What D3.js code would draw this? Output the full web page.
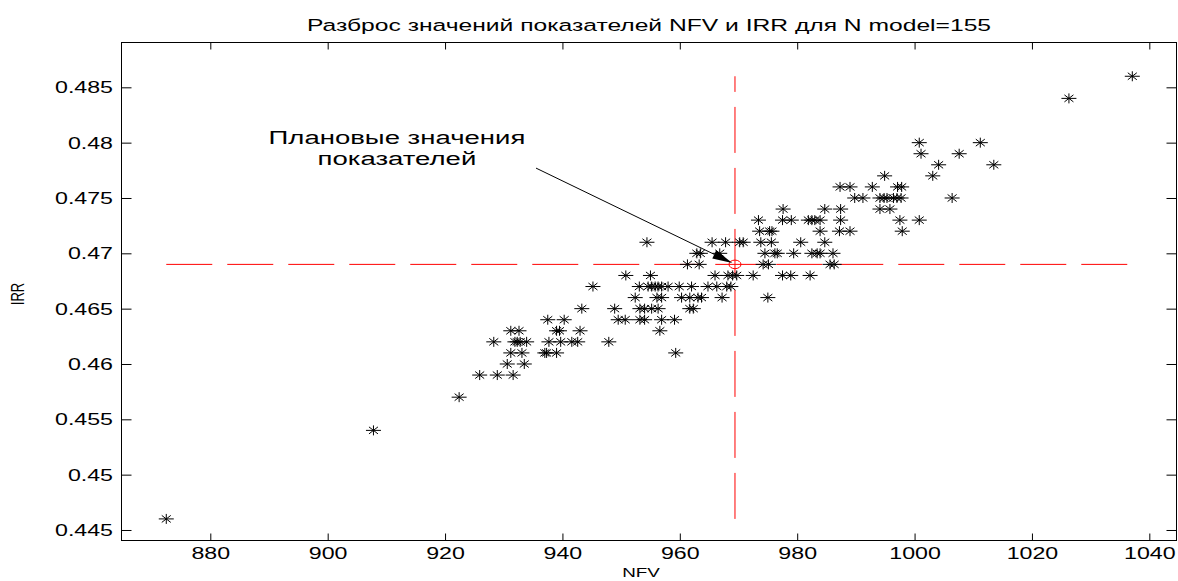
<!DOCTYPE html>
<html>
<head>
<meta charset="utf-8">
<script src="https://cdnjs.cloudflare.com/ajax/libs/d3/7.8.5/d3.min.js"></script>
<style>
  html, body { margin: 0; padding: 0; background: #fff; }
  svg { display: block; font-family: "Liberation Sans", Arial, Helvetica, sans-serif; }
</style>
</head>
<body>
<svg id="chart"></svg>
<script>
// IRR levels (one row of stars per level) and the NFV values on each row
const irrRows = [0.486, 0.484, 0.480, 0.479, 0.478, 0.477, 0.476, 0.475, 0.474, 0.473, 0.472, 0.471, 0.470,
                 0.469, 0.468, 0.467, 0.466, 0.465, 0.464, 0.463, 0.462, 0.461, 0.460, 0.459, 0.457, 0.454, 0.446]
const nfvRows = [
  [1037.1],
  [1026.3],
  [1000.8, 1011.2],
  [1001.1, 1007.6],
  [1004.1, 1013.5],
  [994.9, 1003.1],
  [987.3, 989.0, 992.8, 997.1, 997.8],
  [989.8, 991.2, 994.1, 994.8, 995.3, 996.4, 997.0, 997.7, 1006.4],
  [977.6, 984.7, 987.4, 994.1, 995.8],
  [973.4, 977.5, 979.0, 981.9, 982.5, 983.0, 983.9, 987.4, 997.5, 1000.8],
  [973.6, 975.3, 975.7, 983.9, 987.2, 989.0, 997.9],
  [954.4, 965.5, 967.8, 970.2, 970.8, 973.8, 975.6, 980.6, 984.7],
  [962.9, 963.5, 966.8, 974.5, 976.2, 976.6, 979.4, 982.5, 983.4, 983.9, 986.1],
  [961.3, 963.3, 974.2, 975.1, 985.6, 986.3],
  [950.8, 955.0, 966.0, 968.2, 969.0, 969.7, 972.5, 977.5, 978.9, 982.2],
  [945.2, 953.1, 954.6, 955.2, 955.8, 956.3, 956.9, 958.0, 959.9, 962.0, 964.8, 966.3, 968.0, 968.7],
  [952.4, 956.1, 956.9, 960.3, 961.7, 963.1, 963.7, 967.2, 975.0],
  [943.3, 948.9, 953.2, 954.0, 955.2, 956.3, 961.7, 962.3],
  [937.5, 940.3, 949.5, 950.7, 953.2, 954.0, 956.9, 959.1],
  [931.2, 932.6, 939.0, 939.5, 943.0, 956.6],
  [928.3, 931.9, 932.3, 932.8, 933.9, 937.7, 939.7, 941.6, 942.6, 947.9],
  [931.2, 933.1, 937.0, 937.3, 939.0, 959.3],
  [930.6, 933.5],
  [925.9, 928.9, 931.6],
  [922.4],
  [907.8],
  [872.5]
]

// planned values (red circle + dashed cross)
const planNfv = 969.4
const planIrr = 0.469

const xTicks = [880, 900, 920, 940, 960, 980, 1000, 1020, 1040]
const yTicks = [0.445, 0.45, 0.455, 0.46, 0.465, 0.47, 0.475, 0.48, 0.485]
const xDomain = [864.87, 1044.63]
const yDomain = [0.44405, 0.48905]

const title = "Разброс значений показателей NFV и IRR для N model=155"
const xLabel = "NFV"
const yLabel = "IRR"
const annLines = ["Плановые значения", "показателей"]
// where the annotation text sits and where the arrow starts (data units)
const annText = {nfv: 911.8, irr: 0.4799}
const annTail = {nfv: 935.5, irr: 0.4777}

const width = 1178
const height = 581
const margin = {top: 42.5, right: 1.5, bottom: 40.5, left: 121.5}
const sx = 1.45 // the whole picture is stretched sideways, so text is too

const points = irrRows.flatMap((r, i) => nfvRows[i].map(v => ({nfv: v, irr: r})))

const x = d3.scaleLinear().domain(xDomain).range([margin.left, width - margin.right])
const y = d3.scaleLinear().domain(yDomain).range([height - margin.bottom, margin.top])

const svg = d3.select("#chart")
    .attr("width", width)
    .attr("height", height)
    .attr("viewBox", [0, 0, width, height])

// axes: ticks point inward on all four sides like matlab
const gx = svg.append("g")
    .attr("transform", `translate(0,${height - margin.bottom})`)
    .call(d3.axisBottom(x).tickValues(xTicks).tickSize(-7).tickSizeOuter(0).tickFormat(d3.format("d")))
gx.select(".domain").remove()
gx.selectAll("text")
    .attr("y", 18.5)
    .attr("dy", null)
    .attr("transform", `scale(${sx},1)`)

const gxTop = svg.append("g")
    .attr("transform", `translate(0,${margin.top})`)
    .call(d3.axisTop(x).tickValues(xTicks).tickSize(-7).tickSizeOuter(0).tickFormat(""))
gxTop.select(".domain").remove()

const gy = svg.append("g")
    .attr("transform", `translate(${margin.left},0)`)
    .call(d3.axisLeft(y).tickValues(yTicks).tickSize(-10).tickSizeOuter(0).tickFormat(d => +d.toFixed(3)))
gy.select(".domain").remove()
gy.selectAll("text")
    .attr("x", null)
    .attr("dy", "0.35em")
    .attr("transform", `translate(-8.5,0) scale(${sx},1)`)

const gyRight = svg.append("g")
    .attr("transform", `translate(${width - margin.right},0)`)
    .call(d3.axisRight(y).tickValues(yTicks).tickSize(-10).tickSizeOuter(0).tickFormat(""))
gyRight.select(".domain").remove()

svg.selectAll("g.tick text")
    .attr("font-size", 16)
    .attr("font-family", "Liberation Sans, Arial, sans-serif")
    .attr("fill", "#000")
svg.selectAll("g.tick line").attr("stroke", "#000")

// box
svg.append("rect")
    .attr("x", x.range()[0])
    .attr("y", y.range()[1])
    .attr("width", x.range()[1] - x.range()[0])
    .attr("height", y.range()[0] - y.range()[1])
    .attr("fill", "none")
    .attr("stroke", "#000")
    .attr("stroke-width", 1)

// dashed red cross through the planned point, spanning the data range
const [nfvMin, nfvMax] = d3.extent(points, d => d.nfv)
const [irrMin, irrMax] = d3.extent(points, d => d.irr)

svg.append("line")
    .attr("x1", x(nfvMin)).attr("x2", x(nfvMax))
    .attr("y1", y(planIrr)).attr("y2", y(planIrr))
    .attr("stroke", "#ff0000")
    .attr("stroke-dasharray", "46,15")

svg.append("line")
    .attr("x1", x(planNfv)).attr("x2", x(planNfv))
    .attr("y1", y(irrMin)).attr("y2", y(irrMax))
    .attr("stroke", "#ff0000")
    .attr("stroke-dasharray", "46,15")

// '*' markers
const star = "M-7.5,0H7.5M0,-5V5M-4.5,-3.5L4.5,3.5M-4.5,3.5L4.5,-3.5"
svg.append("g")
    .attr("fill", "none")
    .attr("stroke", "#000")
    .attr("stroke-width", 1)
  .selectAll("path")
  .data(points)
  .join("path")
    .attr("transform", d => `translate(${x(d.nfv)},${y(d.irr)})`)
    .attr("d", star)

// planned point
svg.append("ellipse")
    .attr("cx", x(planNfv))
    .attr("cy", y(planIrr))
    .attr("rx", 6)
    .attr("ry", 4.3)
    .attr("fill", "none")
    .attr("stroke", "#ff0000")

// annotation arrow
const x0 = x(annTail.nfv), y0 = y(annTail.irr)
const px = x(planNfv), py = y(planIrr)
const len = Math.hypot(px - x0, py - y0)
const ux = (px - x0) / len, uy = (py - y0) / len
const tipX = px - ux * 3, tipY = py - uy * 3
const headLen = 20, headW = 4.5
const bx = tipX - ux * headLen, by = tipY - uy * headLen

svg.append("line")
    .attr("x1", x0).attr("y1", y0)
    .attr("x2", bx).attr("y2", by)
    .attr("stroke", "#000")
    .attr("stroke-width", 1)

svg.append("path")
    .attr("d", d3.line()([
      [tipX, tipY],
      [bx - uy * headW, by + ux * headW],
      [bx + uy * headW, by - ux * headW]
    ]) + "Z")
    .attr("fill", "#000")

svg.append("g")
    .attr("transform", `translate(${x(annText.nfv)},${y(annText.irr)})`)
  .selectAll("text")
  .data(annLines)
  .join("text")
    .attr("transform", (d, i) => `translate(0,${i * 21}) scale(${sx},1)`)
    .attr("text-anchor", "middle")
    .attr("font-size", 19)
    .attr("fill", "#000")
    .text(d => d)

// title and axis labels
svg.append("text")
    .attr("transform", `translate(${(x.range()[0] + x.range()[1]) / 2},30.7) scale(${sx},1)`)
    .attr("text-anchor", "middle")
    .attr("font-size", 17)
    .text(title)

svg.append("text")
    .attr("transform", `translate(641,577) scale(${sx},1)`)
    .attr("text-anchor", "middle")
    .attr("font-size", 13)
    .text(xLabel)

svg.append("text")
    .attr("transform", `translate(24,294) scale(${sx},1) rotate(-90)`)
    .attr("text-anchor", "middle")
    .attr("font-size", 13)
    .text(yLabel)
</script>
</body>
</html>
